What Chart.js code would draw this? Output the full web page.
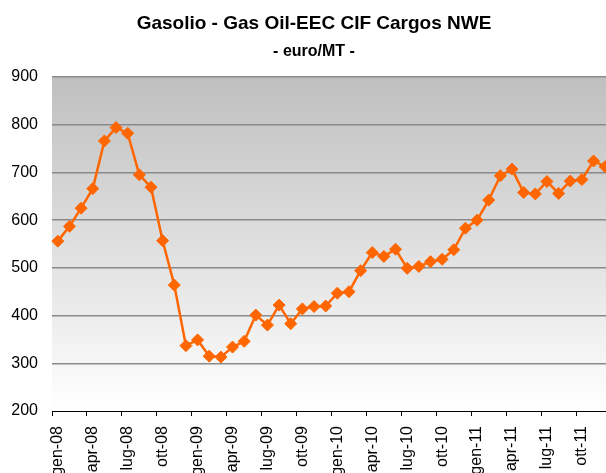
<!DOCTYPE html>
<html>
<head>
<meta charset="utf-8">
<script src="https://cdn.jsdelivr.net/npm/chart.js@4.4.1/dist/chart.umd.min.js"></script>
<style>
    html, body { margin: 0; padding: 0; overflow: hidden; background: #fff; }
    #wrap { position: relative; width: 618px; height: 475px; }
</style>
</head>
<body>
<div id="wrap"><canvas id="gasChart"></canvas></div>
<script>
// monthly quotes, euro per metric tonne
const months = [
    'gen-08', 'feb-08', 'mar-08', 'apr-08', 'mag-08', 'giu-08', 'lug-08', 'ago-08', 'set-08', 'ott-08', 'nov-08', 'dic-08',
    'gen-09', 'feb-09', 'mar-09', 'apr-09', 'mag-09', 'giu-09', 'lug-09', 'ago-09', 'set-09', 'ott-09', 'nov-09', 'dic-09',
    'gen-10', 'feb-10', 'mar-10', 'apr-10', 'mag-10', 'giu-10', 'lug-10', 'ago-10', 'set-10', 'ott-10', 'nov-10', 'dic-10',
    'gen-11', 'feb-11', 'mar-11', 'apr-11', 'mag-11', 'giu-11', 'lug-11', 'ago-11', 'set-11', 'ott-11', 'nov-11', 'dic-11'
];
const prices = [
    556, 587, 625, 666, 766, 794, 782, 695, 669, 557, 464, 337,
    349, 315, 313, 334, 346, 401, 380, 422, 383, 414, 419, 420,
    447, 450, 494, 532, 524, 539, 499, 503, 513, 518, 538, 583,
    600, 642, 693, 707, 658, 655, 681, 656, 682, 685, 724, 712
];
const yMin = 200;
const yMax = 900;
const yStep = 100;

const titleText = 'Gasolio - Gas Oil-EEC CIF Cargos NWE';
const subtitleText = '- euro/MT -';

// grey to white fill behind the plot
const plotBackground = {
    id: 'plotBackground',
    beforeDraw(chart) {
        const { ctx, chartArea } = chart;
        const grad = ctx.createLinearGradient(0, chartArea.top, 0, chartArea.bottom);
        grad.addColorStop(0, '#bfbfbf');
        grad.addColorStop(1, '#ffffff');
        ctx.save();
        ctx.fillStyle = grad;
        ctx.fillRect(chartArea.left, chartArea.top, chartArea.right - chartArea.left, chartArea.bottom - chartArea.top);
        ctx.restore();
    }
};

const ctx = document.getElementById('gasChart').getContext('2d');

new Chart(ctx, {
    type: 'line',
    data: {
        labels: months,
        datasets: [{
            label: 'Gasolio',
            data: prices,
            borderColor: '#FF6600',
            backgroundColor: '#FF6600',
            borderWidth: 2.5,
            tension: 0,
            pointStyle: 'rectRot',
            pointRadius: 6,
            pointBorderWidth: 1,
            pointBackgroundColor: '#FF6600',
            pointBorderColor: '#FF6600'
        }]
    },
    options: {
        responsive: true,
        maintainAspectRatio: false,
        animation: false,
        layout: { padding: { left: 10, right: 0, top: 0, bottom: 0 } },
        scales: {
            x: {
                offset: true,
                grid: {
                    offset: true,
                    drawOnChartArea: false,
                    drawTicks: true,
                    tickLength: 5,
                    color: (c) => (c.index % 3 === 0 ? '#000' : 'rgba(0,0,0,0)')
                },
                border: { display: true, color: '#000', width: 1 },
                ticks: {
                    autoSkip: false,
                    minRotation: 90,
                    maxRotation: 90,
                    padding: 10,
                    color: '#000',
                    font: { family: 'Liberation Sans', size: 16 },
                    callback: function (value, index) {
                        return index % 3 === 0 ? months[index] : '';
                    }
                },
                afterFit: (scale) => {
                    scale.height = 64;
                    // plot runs right up to the edge, last point gets clipped
                    scale.paddingLeft = 0;
                    scale.paddingRight = 0;
                }
            },
            y: {
                min: yMin,
                max: yMax,
                ticks: {
                    stepSize: yStep,
                    padding: 14,
                    color: '#000',
                    font: { family: 'Liberation Sans', size: 16 }
                },
                grid: {
                    drawTicks: false,
                    lineWidth: 1.5,
                    color: (c) => (c.tick && c.tick.value === yMin ? 'rgba(0,0,0,0)' : '#8a8a8a')
                },
                border: { display: false },
                afterFit: (scale) => { scale.width = 42; }
            }
        },
        plugins: {
            legend: { display: false },
            tooltip: { enabled: false },
            title: {
                display: true,
                text: titleText,
                color: '#000',
                font: { family: 'Liberation Sans', size: 19, weight: 'bold' },
                padding: { top: 12, bottom: 7 }
            },
            subtitle: {
                display: true,
                text: subtitleText,
                color: '#000',
                font: { family: 'Liberation Sans', size: 16, weight: 'bold' },
                padding: { top: 0, bottom: 16 }
            }
        }
    },
    plugins: [plotBackground]
});
</script>
</body>
</html>
